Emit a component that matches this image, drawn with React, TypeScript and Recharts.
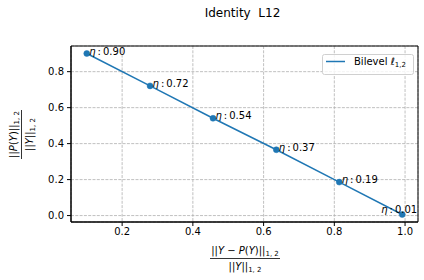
import React from 'react';
import { LineChart, Line, XAxis, YAxis, CartesianGrid, ReferenceArea } from 'recharts';

const etaLabels = ['0.90', '0.72', '0.54', '0.37', '0.19', '0.01'];
const xVals = [0.1, 0.279, 0.457, 0.636, 0.814, 0.992];
const yVals = [0.901, 0.721, 0.541, 0.366, 0.186, 0.006];
const xTicks = [0.2, 0.4, 0.6, 0.8, 1.0];
const yTicks = [0.0, 0.2, 0.4, 0.6, 0.8];
const xDomain = [0.0554, 1.0366];
const yDomain = [-0.0357, 0.9427];

const data = xVals.map((x, i) => ({ x, y: yVals[i], eta: etaLabels[i] }));

const FONT = 'DejaVu Sans';
const BLUE = '#1f77b4';

const renderLabel = (props: any) => {
  const { x, y, index } = props;
  const last = index === data.length - 1;
  const tx = last ? x - 21 : x + 2.5;
  const ty = last ? y - 1 : y + 1;
  return (
    <text x={tx} y={ty} fontFamily={FONT} fontSize={10} fill="#000">
      <tspan fontStyle="italic">η</tspan>
      <tspan>{'\u2009:\u2009' + data[index].eta}</tspan>
    </text>
  );
};

export default function App() {
  return (
    <div style={{ position: 'absolute', left: 0, top: 0, width: 424, height: 280, background: '#fff' }}>
      <LineChart width={424} height={280} data={data} margin={{ top: 46, right: 6, left: 0, bottom: 0 }}>
        <CartesianGrid stroke="#b0b0b0" strokeDasharray="3 1.3" strokeWidth={0.8} />
        <XAxis
          dataKey="x"
          type="number"
          domain={xDomain}
          ticks={xTicks}
          allowDataOverflow
          tickFormatter={(v: number) => v.toFixed(1)}
          height={58}
          tickSize={4}
          tickMargin={2}
          stroke="#000"
          tick={{ fill: '#000', fontSize: 10, fontFamily: FONT }}
        />
        <YAxis
          type="number"
          domain={yDomain}
          ticks={yTicks}
          allowDataOverflow
          tickFormatter={(v: number) => v.toFixed(1)}
          width={71}
          tickSize={4}
          tickMargin={3}
          stroke="#000"
          tick={{ fill: '#000', fontSize: 10, fontFamily: FONT }}
        />
        <ReferenceArea
          x1={xDomain[0]}
          x2={xDomain[1]}
          y1={yDomain[0]}
          y2={yDomain[1]}
          fill="none"
          fillOpacity={0}
          stroke="#000"
          strokeWidth={1}
          ifOverflow="visible"
        />
        <Line
          dataKey="y"
          stroke={BLUE}
          strokeWidth={1.5}
          dot={{ r: 3, fill: BLUE, stroke: BLUE, strokeWidth: 0.5 }}
          activeDot={false}
          isAnimationActive={false}
          label={renderLabel}
        />
      </LineChart>
      <svg width={424} height={280} style={{ position: 'absolute', left: 0, top: 0, pointerEvents: 'none' }}>
        <text x={242.5} y={17} textAnchor="middle" fontFamily={FONT} fontSize={12} fill="#000" style={{ whiteSpace: 'pre' }}>
          {'Identity  L12'}
        </text>
        {/* legend */}
        <rect x={322.5} y={54.5} width={91} height={20} rx={2} fill="#fff" fillOpacity={0.8} stroke="#d0d0d0" />
        <line x1={326} y1={61.5} x2={345} y2={61.5} stroke={BLUE} strokeWidth={1.5} />
        <text x={354} y={65} fontFamily={FONT} fontSize={10} fill="#000">
          <tspan>Bilevel </tspan>
          <tspan fontStyle="italic">ℓ</tspan>
          <tspan fontSize={7} dy={2}>1,2</tspan>
        </text>
        {/* x label */}
        <g transform="translate(245,258.5)">
          <text x={0} y={-5} textAnchor="middle" fontFamily={FONT} fontSize={10} fill="#000">
            <tspan>||</tspan>
            <tspan fontStyle="italic">Y</tspan>
            <tspan>{' − '}</tspan>
            <tspan fontStyle="italic">P</tspan>
            <tspan>(</tspan>
            <tspan fontStyle="italic">Y</tspan>
            <tspan>)||</tspan>
            <tspan fontSize={7} dy={2}>{'1, 2'}</tspan>
          </text>
          <line x1={-35} y1={0} x2={35} y2={0} stroke="#000" strokeWidth={0.8} />
          <text x={0} y={11.5} textAnchor="middle" fontFamily={FONT} fontSize={10} fill="#000">
            <tspan>||</tspan>
            <tspan fontStyle="italic">Y</tspan>
            <tspan>||</tspan>
            <tspan fontSize={7} dy={2}>{'1, 2'}</tspan>
          </text>
        </g>
        {/* y label */}
        <g transform="translate(21.5,134.5) rotate(-90)">
          <text x={0} y={-4.5} textAnchor="middle" fontFamily={FONT} fontSize={10} fill="#000">
            <tspan>||</tspan>
            <tspan fontStyle="italic">P</tspan>
            <tspan>(</tspan>
            <tspan fontStyle="italic">Y</tspan>
            <tspan>)||</tspan>
            <tspan fontSize={7} dy={2}>{'1, 2'}</tspan>
          </text>
          <line x1={-24.5} y1={0} x2={24.5} y2={0} stroke="#000" strokeWidth={0.8} />
          <text x={0} y={11.5} textAnchor="middle" fontFamily={FONT} fontSize={10} fill="#000">
            <tspan>||</tspan>
            <tspan fontStyle="italic">Y</tspan>
            <tspan>||</tspan>
            <tspan fontSize={7} dy={2}>{'1, 2'}</tspan>
          </text>
        </g>
      </svg>
    </div>
  );
}
